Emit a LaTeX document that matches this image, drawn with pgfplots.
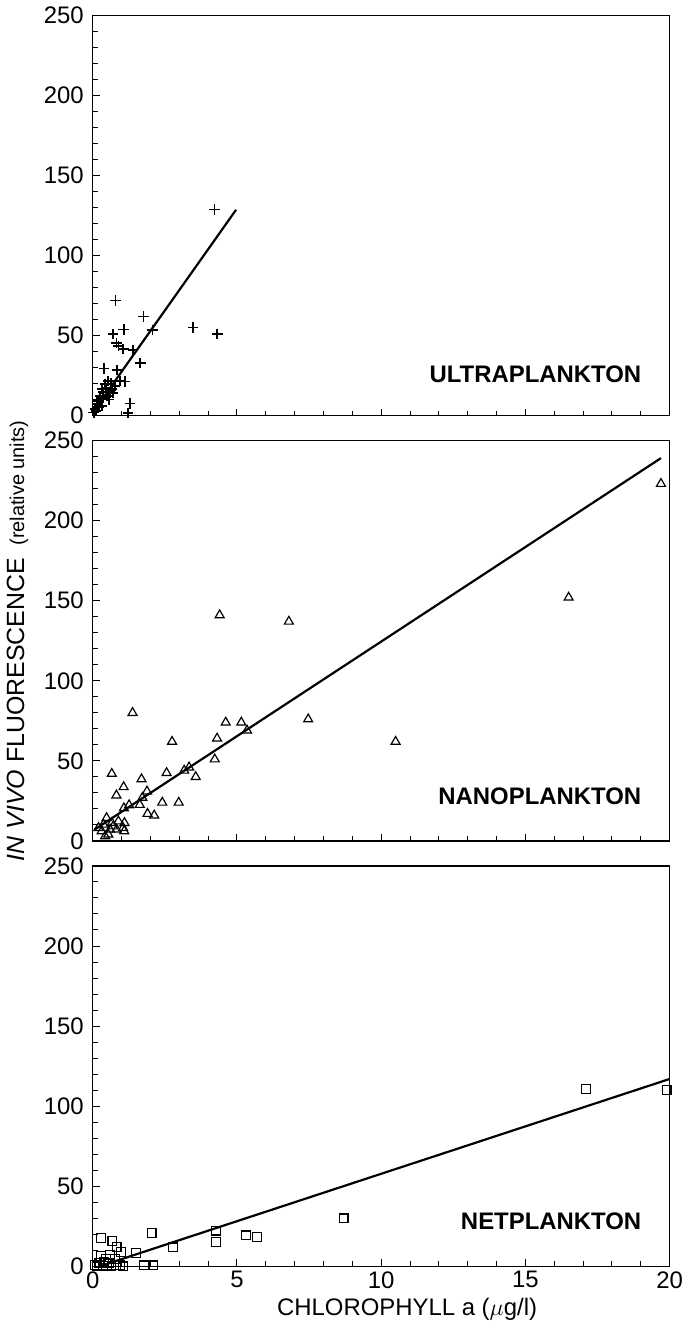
\documentclass[border=0pt]{standalone}
\usepackage{fontspec}
\setmainfont{Liberation Sans}
\usepackage{pgfplots}
\pgfplotsset{compat=1.18}
\usepgfplotslibrary{groupplots}

\begin{document}
\begin{tikzpicture}
\begin{groupplot}[
  group style={group size=1 by 3, vertical sep=12.5pt,
    xticklabels at=edge bottom},
  width=289.5pt, height=201pt, scale only axis,
  xmin=0, xmax=20, ymin=0, ymax=250,
  xtick={0,5,...,20}, ytick={0,50,...,250},
  minor x tick num=4, minor y tick num=4,
  xtick pos=bottom, ytick pos=left,
  tick align=inside,
  major tick length=3.5pt, minor tick length=2.5pt,
  axis line style={line width=0.6pt},
  every tick/.style={black, line width=0.5pt},
  /pgf/number format/assume math mode=true,
  tick label style={font=\fontsize{12}{13}\selectfont},
  yticklabel style={xshift=-1pt},
  xticklabel style={yshift=1pt},
  clip=false,
]
% ---------- ultraplankton
\nextgroupplot
\addplot[only marks, mark=+, mark size=2.6pt, line width=0.9pt] coordinates {
  (4.22,128.6) (0.79,71.8) (1.76,61.8) (2.07,53.5) (3.48,55) (4.32,51)
  (1.07,53.8) (0.71,50.9) (0.82,45.5) (0.89,43.4) (1.06,41.4) (1.40,41.1)
  (1.65,32.7) (0.40,29.4) (0.83,28.3) (1.12,21.3) (0.94,21.7) (0.54,21.7)
  (0.42,19.6) (0.31,16.5) (0.37,14.5) (0.60,14.5) (0.66,16.5) (0.26,12.4)
  (0.49,12.4) (0.14,9.3) (0.20,5.2) (0.08,4.1) (0.31,6.2) (1.29,7.6)
  (1.23,1.7) (0.77,18.6) (0.03,2) (0.55,10) (0.70,14) (0.45,17) (0.18,7)
  (0.35,11) (0.62,20) (0.12,3)
};
\addplot[black, line width=1.1pt, mark=none] coordinates {(0.1,4.5) (4.97,128.5)};
\node[anchor=base east, font=\bfseries\fontsize{12}{14}\selectfont]
  at (rel axis cs:0.963,0.083) {ULTRAPLANKTON};
% ---------- nanoplankton
\nextgroupplot[
  ylabel={\fontsize{12.5}{14}\selectfont\textit{IN VIVO} FLUORESCENCE
    {\fontsize{10}{12}\selectfont\ (relative units)}},
  ylabel style={yshift=1pt},
]
\addplot[only marks, mark=triangle, mark size=2.6pt, line width=0.6pt] coordinates {
  (19.7,223) (16.5,152) (6.8,137) (4.4,141) (10.5,62)
  (1.38,80) (7.47,76) (4.61,74) (5.15,74) (5.35,69) (4.31,64) (2.75,62)
  (4.23,51) (0.66,42) (2.56,42.5) (3.17,44) (3.34,46) (3.57,40) (1.69,38.6)
  (1.07,33.7) (0.82,28.5) (1.88,31) (1.72,27) (1.63,22.6) (1.26,22.4)
  (1.08,20.5) (2.41,24) (2.98,24) (1.90,17) (2.13,16)
  (0.48,14.4) (0.37,10.3) (0.66,11.3) (0.89,12.3) (1.10,11.3) (1.05,8.2)
  (0.83,7.2) (0.60,7.2) (0.31,6.2) (0.54,4.1) (1.09,6.2) (0.20,8.2)
  (0.71,9.2) (0.43,3)
};
\addplot[black, line width=1.1pt, mark=none] coordinates {(0.05,7) (19.7,239)};
\node[anchor=base east, font=\bfseries\fontsize{12}{14}\selectfont]
  at (rel axis cs:0.963,0.091) {NANOPLANKTON};
% ---------- netplankton
\nextgroupplot[
  xlabel={CHLOROPHYLL a ($\mu$g/l)},
  xlabel style={font=\fontsize{12}{14}\selectfont, yshift=2pt, xshift=13pt},
]
\addplot[only marks, mark=square, mark size=2.2pt, line width=0.6pt] coordinates {
  (17.1,110.8) (19.9,110) (8.7,30)
  (0.29,17.7) (2.04,20.8) (4.28,22.3) (4.28,15.3) (5.32,19.4) (5.69,18.4)
  (2.79,11.9) (1.50,8.5) (0.68,15.7) (0.83,12) (0.98,8.9) (0.60,7.4)
  (0.77,4.5) (1.77,0.6) (2.10,0.6) (1.05,0)
  (0.06,1) (0.23,2) (0.40,3) (0.57,2) (0.80,1) (0.46,4.5) (0.29,6.5)
  (0.15,0) (0.35,0.5) (0.65,0.5) (0.95,1)
};
\addplot[black, line width=1.1pt, mark=none] coordinates {(0.3,0.4) (20,117)};
\node[anchor=base east, font=\bfseries\fontsize{12}{14}\selectfont]
  at (rel axis cs:0.963,0.092) {NETPLANKTON};
\end{groupplot}
\end{tikzpicture}
\end{document}
